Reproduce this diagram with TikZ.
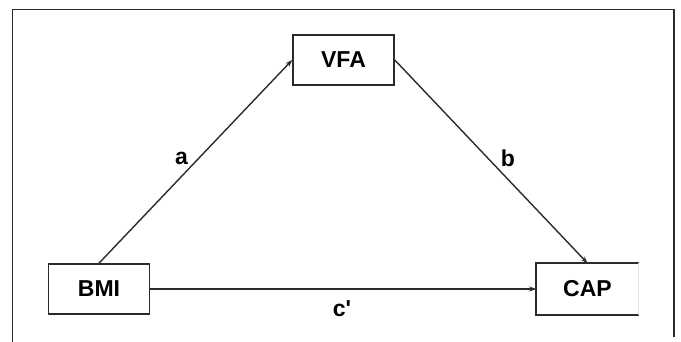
\documentclass[tikz,border=0pt]{standalone}
\usepackage{fontspec}
\setmainfont{Liberation Sans}
\usetikzlibrary{arrows.meta}
\definecolor{ink}{HTML}{2B2B2B}
\begin{document}
\begin{tikzpicture}[x=1pt,y=-1pt,
  varbox/.style={draw=ink,line width=1.6pt,minimum width=101pt,minimum height=50pt,
    inner sep=0pt,font=\fontsize{23}{23}\selectfont\bfseries,text=black},
  path/.style={draw=ink,line width=1.4pt,-{Stealth[length=7pt,width=5pt]}},
  coef/.style={font=\fontsize{23}{23}\selectfont\bfseries,text=black,inner sep=0pt}]
  \useasboundingbox (0,0) rectangle (681,341);
  % outer frame, open at the bottom
  \draw[ink,line width=1.5pt] (12.7,345) -- (12.7,9.5) -- (674,9.5) -- (674,337);
  % variables
  \node[varbox] (VFA) at (343.5,60) {VFA};
  \node[varbox] (BMI) at (99,289) {BMI};
  \node[varbox,draw=none] (CAP) at (587.5,289) {CAP};
  \draw[ink,line width=1.6pt] (CAP.north east) -- (CAP.north west) -- (CAP.south west) -- (CAP.south east);
  \draw[black!12,line width=1pt] (CAP.north east) -- (CAP.south east);
  % paths
  \draw[path] (BMI.north) -- (VFA.west);
  \draw[path] (VFA.east) -- (CAP.north);
  \draw[path] (BMI.east) -- (CAP.west);
  % path coefficients
  \node[coef] (la) at (181.5,158) {a};
  \node[coef] (lb) at (508,158) {b};
  \node[coef] (lc) at (342,309) {c\textquotesingle};
\end{tikzpicture}
\end{document}
